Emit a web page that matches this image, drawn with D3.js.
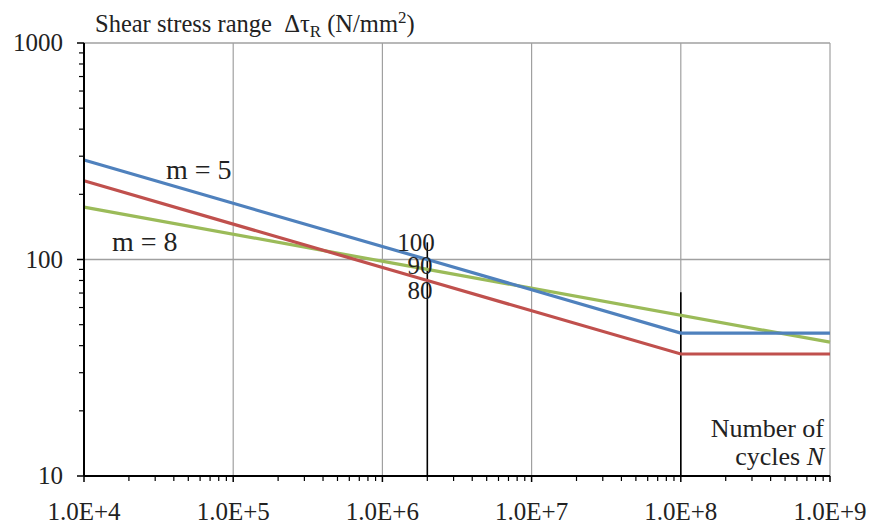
<!DOCTYPE html>
<html><head><meta charset="utf-8">
<script src="https://cdn.jsdelivr.net/npm/d3@7"></script>
<style>body{margin:0;background:#fff}svg{display:block}</style>
</head><body>
<svg id="c" width="869" height="527"></svg>
<script>
const xDomain = [1e4, 1e9];
const yDomain = [10, 1000];
const xTickValues = [1e4, 1e5, 1e6, 1e7, 1e8, 1e9];
const xTickLabels = ["1.0E+4", "1.0E+5", "1.0E+6", "1.0E+7", "1.0E+8", "1.0E+9"];
const yTickValues = [10, 100, 1000];
const yTickLabels = ["10", "100", "1000"];
const blueN = [1e4, 2e6, 1e8, 1e9];
const blueS = [288, 100, 45.7, 45.7];
const redN = [1e4, 2e6, 1e8, 1e9];
const redS = [231, 80, 36.6, 36.6];
const greenN = [1e4, 2e6, 1e9];
const greenS = [174.5, 90, 41.5];
const markerN = [2e6, 1e8];
const markerTop = [120, 70.5];

const W = 869, H = 527;
const m = {l: 84, r: 39, t: 43, b: 51};
const svg = d3.select("#c");
const x = d3.scaleLog().domain(xDomain).range([m.l, W - m.r]);
const y = d3.scaleLog().domain(yDomain).range([H - m.b, m.t]);
const font = "'Liberation Serif', 'Times New Roman', serif";

const minorX = [], minorY = [];
for (let e = 4; e < 9; e++) for (let k = 2; k <= 9; k++) minorX.push(k * Math.pow(10, e));
for (let e = 1; e < 3; e++) for (let k = 2; k <= 9; k++) minorY.push(k * Math.pow(10, e));

svg.append("g").selectAll("line").data(xTickValues.slice(1)).join("line")
  .attr("x1", d => x(d)).attr("x2", d => x(d)).attr("y1", y(1000)).attr("y2", y(10))
  .attr("stroke", "#a0a0a0").attr("stroke-width", 1.2);
svg.append("g").selectAll("line").data([100, 1000]).join("line")
  .attr("x1", x(1e4)).attr("x2", x(1e9)).attr("y1", d => y(d)).attr("y2", d => y(d))
  .attr("stroke", "#a0a0a0").attr("stroke-width", 1.5);

svg.append("g").selectAll("line").data(markerN).join("line")
  .attr("x1", d => x(d)).attr("x2", d => x(d))
  .attr("y1", (d, i) => y(markerTop[i])).attr("y2", y(10))
  .attr("stroke", "#000").attr("stroke-width", 1.6);

const line = d3.line().x(d => x(d[0])).y(d => y(d[1]));
const series = [
  {n: greenN, s: greenS, c: "#9BBB59"},
  {n: redN, s: redS, c: "#C0504D"},
  {n: blueN, s: blueS, c: "#4F81BD"}
];
series.forEach(se => {
  svg.append("path").datum(se.n.map((v, i) => [v, se.s[i]]))
    .attr("d", line).attr("fill", "none").attr("stroke", se.c).attr("stroke-width", 3.2);
});

const gx = svg.append("g").attr("transform", `translate(0,${y(10)})`);
gx.append("line").attr("x1", x(1e4)).attr("x2", x(1e9)).attr("stroke", "#000").attr("stroke-width", 2);
gx.selectAll(".mj").data(xTickValues).join("line").attr("class", "mj")
  .attr("x1", d => x(d)).attr("x2", d => x(d)).attr("y1", 0).attr("y2", 6)
  .attr("stroke", "#000").attr("stroke-width", 1.5);
gx.selectAll(".mn").data(minorX).join("line").attr("class", "mn")
  .attr("x1", d => x(d)).attr("x2", d => x(d)).attr("y1", 0).attr("y2", 5)
  .attr("stroke", "#000").attr("stroke-width", 1.2);
gx.selectAll("text").data(xTickValues).join("text")
  .attr("x", d => x(d)).attr("y", 44).attr("text-anchor", "middle")
  .attr("font-family", font).attr("font-size", 25).attr("fill", "#222")
  .text((d, i) => xTickLabels[i]);

const gy = svg.append("g").attr("transform", `translate(${x(1e4)},0)`);
gy.append("line").attr("y1", y(1000)).attr("y2", y(10)).attr("stroke", "#000").attr("stroke-width", 2);
gy.selectAll(".mj").data(yTickValues).join("line").attr("class", "mj")
  .attr("y1", d => y(d)).attr("y2", d => y(d)).attr("x1", 0).attr("x2", -7)
  .attr("stroke", "#000").attr("stroke-width", 1.5);
gy.selectAll(".mn").data(minorY).join("line").attr("class", "mn")
  .attr("y1", d => y(d)).attr("y2", d => y(d)).attr("x1", 0).attr("x2", -5)
  .attr("stroke", "#000").attr("stroke-width", 1.2);
gy.selectAll("text").data(yTickValues).join("text")
  .attr("x", -21).attr("y", d => y(d)).attr("dy", "0.33em").attr("text-anchor", "end")
  .attr("font-family", font).attr("font-size", 25).attr("fill", "#222")
  .text((d, i) => yTickLabels[i]);

const T = (tx, ty, str, anchor, fs) => svg.append("text").attr("x", tx).attr("y", ty)
  .attr("font-family", font).attr("font-size", fs || 26).attr("fill", "#222")
  .attr("text-anchor", anchor || "start").text(str);

const title = svg.append("text").attr("x", 95).attr("y", 32)
  .attr("font-family", font).attr("font-size", 24.5).attr("fill", "#222");
title.append("tspan").text("Shear stress range\u00A0\u00A0\u0394\u03C4");
title.append("tspan").attr("font-size", 17).attr("dy", 5).text("R");
title.append("tspan").attr("dy", -5).text(" (N/mm");
title.append("tspan").attr("font-size", 17).attr("dy", -9).text("2");
title.append("tspan").attr("dy", 9).text(")");

T(166, 179, "m = 5", "start", 28);
T(112, 251, "m = 8", "start", 28);
T(416, 251, "100", "middle", 25);
T(420, 274, "90", "middle", 25);
T(420, 299, "80", "middle", 25);
T(824, 437, "Number of", "end");
const nc = svg.append("text").attr("x", 824).attr("y", 465).attr("text-anchor", "end")
  .attr("font-family", font).attr("font-size", 26).attr("fill", "#222");
nc.append("tspan").text("cycles ");
nc.append("tspan").attr("font-style", "italic").text("N");
</script>
</body></html>
